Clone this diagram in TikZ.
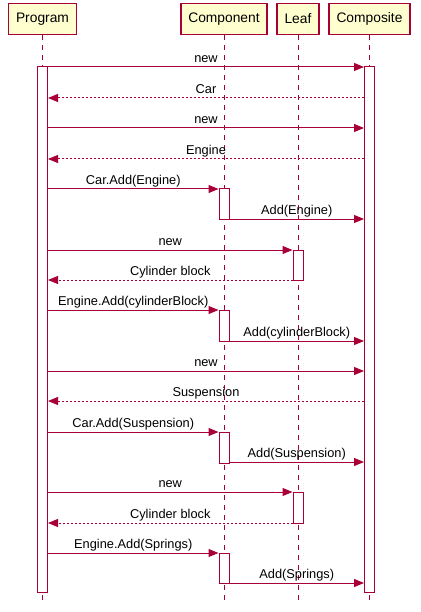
\documentclass[tikz,border=0pt]{standalone}
\usepackage{fontspec}
\setmainfont{Liberation Sans}
\usetikzlibrary{arrows.meta}
\definecolor{umlred}{HTML}{A80036}
\definecolor{umlfill}{HTML}{FEFECE}

\begin{document}
\begin{tikzpicture}[x=1pt,y=-1pt,
  part/.style={draw=umlred, fill=umlfill, line width=1.4pt, minimum height=31pt, inner xsep=7.5pt, font=\fontsize{13.8}{15}\selectfont},
  life/.style={draw=umlred, line width=0.9pt, dash pattern=on 5pt off 5pt},
  act/.style={draw=umlred, fill=white, line width=1pt, minimum width=10pt, inner sep=0pt},
  msg/.style={draw=umlred, line width=1pt, -{Triangle[length=10pt,width=8pt]}},
  ret/.style={msg, dash pattern=on 2pt off 2pt},
  lbl/.style={anchor=base, yshift=4.5pt, inner sep=0pt, text=black, font=\fontsize{12.8}{15}\selectfont}]
\useasboundingbox (0,0) rectangle (420,612);

% participants
\node[part] (prog) at (42.5,19) {Program};
\node[part] (comp) at (224,19) {Component};
\node[part] (leaf) at (298,19) {Leaf};
\node[part] (cmps) at (369.5,19) {Composite};

% lifelines
\coordinate (end) at (0,605);
\draw[life] (prog.south) -- (prog.south |- end);
\draw[life] (comp.south) -- (comp.south |- end);
\draw[life] (leaf.south) -- (leaf.south |- end);
\draw[life] (cmps.south) -- (cmps.south |- end);

% activations
\node[act, minimum height=525pt] (aprog) at (42.5,329.5) {};
\node[act, minimum height=525pt] (acmps) at (369.5,329.5) {};
\node[act, minimum height=30pt] (ac1) at (224,204) {};
\node[act, minimum height=31pt] (ac2) at (224,325.5) {};
\node[act, minimum height=31pt] (ac3) at (224,447.5) {};
\node[act, minimum height=30pt] (ac4) at (224,568) {};
\node[act, minimum height=30pt] (al1) at (298,265) {};
\node[act, minimum height=31pt] (al2) at (298,507.5) {};

% calls
\foreach \y/\a/\b/\t in {67/aprog/acmps/new, 128/aprog/acmps/new,
    189/aprog/ac1/Car.Add(Engine), 219/ac1/acmps/Add(Engine),
    250/aprog/al1/new, 310/aprog/ac2/Engine.Add(cylinderBlock),
    341/ac2/acmps/Add(cylinderBlock), 371/aprog/acmps/new,
    432/aprog/ac3/Car.Add(Suspension), 462/ac3/acmps/Add(Suspension),
    492/aprog/al2/new, 553/aprog/ac4/Engine.Add(Springs),
    583/ac4/acmps/Add(Springs)}
  \draw[msg] (\a.east |- 0,\y) -- node[lbl] {\t} (\b.west |- 0,\y);

% returns
\foreach \y/\a/\t in {98/acmps/Car, 159/acmps/Engine, 280/al1/Cylinder block,
    401/acmps/Suspension, 523/al2/Cylinder block}
  \draw[ret] (\a.west |- 0,\y) -- node[lbl] {\t} (aprog.east |- 0,\y);
\end{tikzpicture}
\end{document}
